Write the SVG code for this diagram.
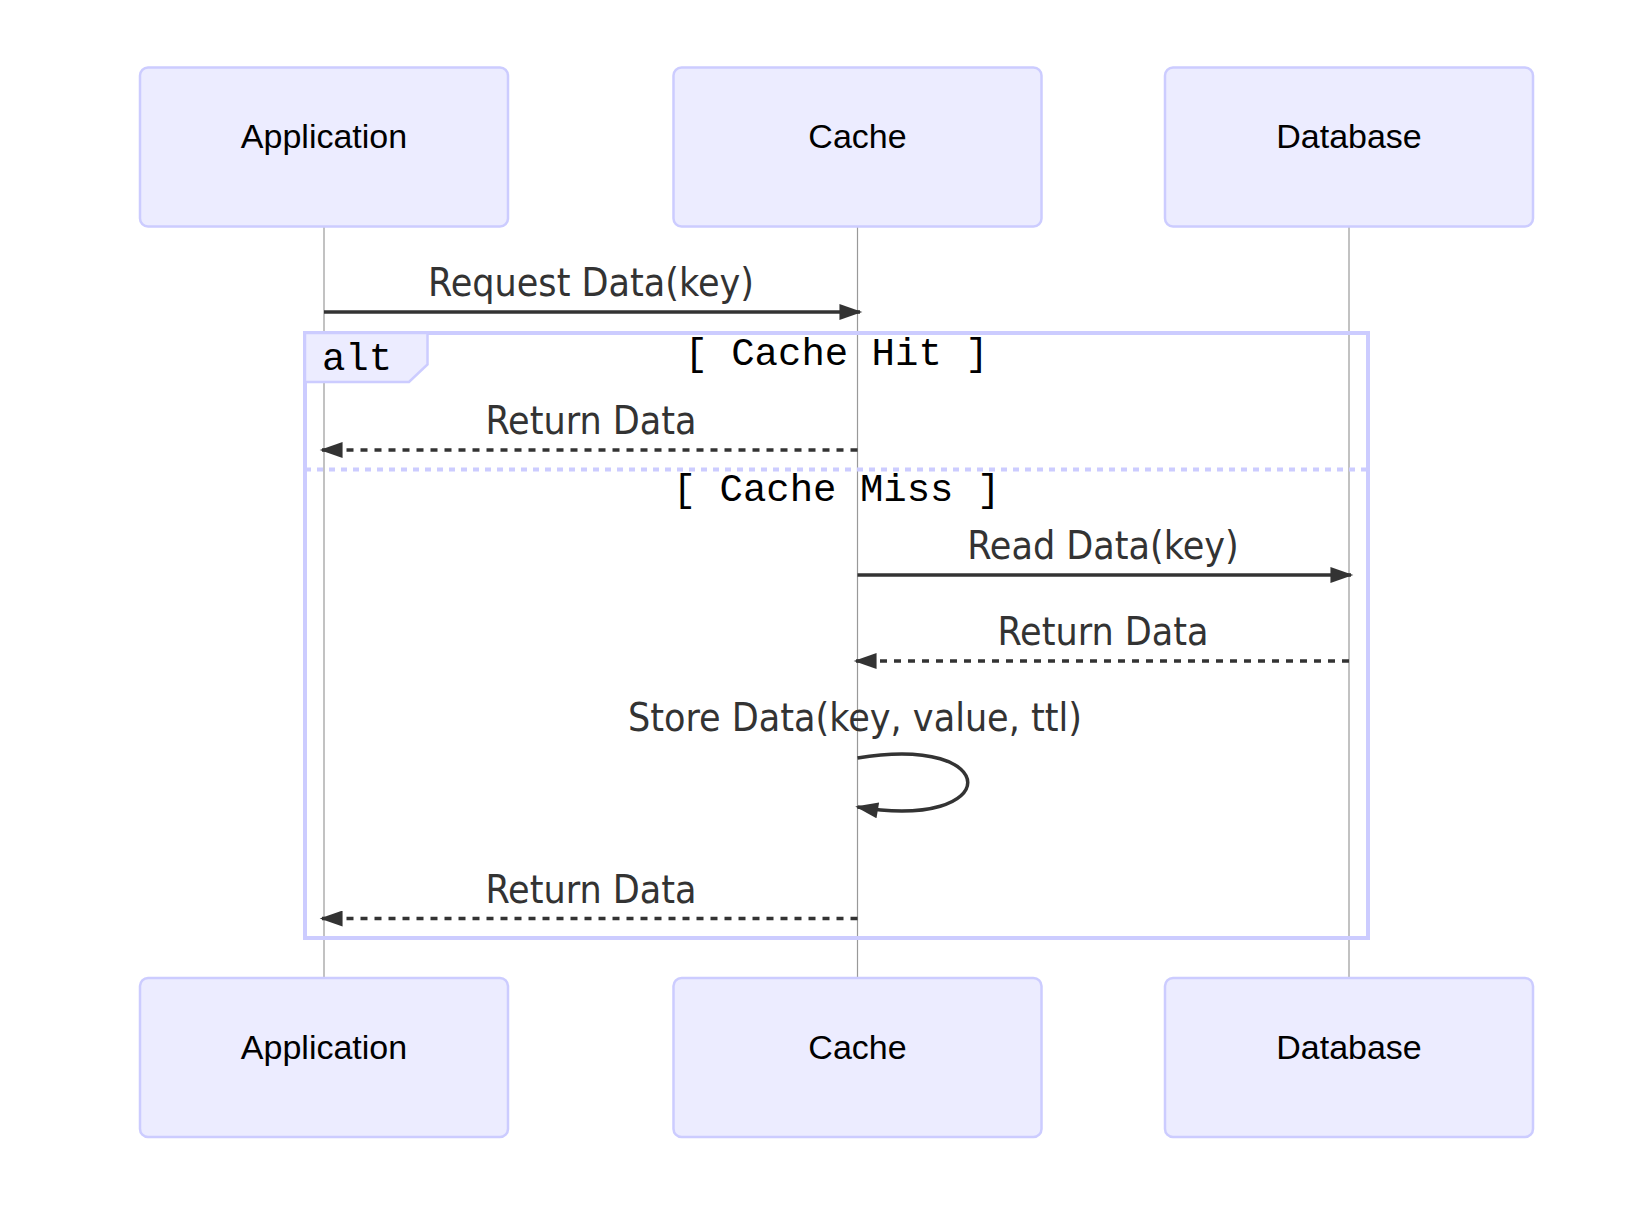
<svg xmlns="http://www.w3.org/2000/svg" width="1642" height="1220" viewBox="0 0 1642 1220">
<style>
.actor{fill:#ECECFF;stroke:#CCCCFF;stroke-width:2.5}
.actorText{font-family:"Liberation Sans",Arial,sans-serif;font-size:34px;fill:#000;text-anchor:middle}
.life{stroke:#999;stroke-width:1.2}
.msg{fill:none;stroke:#333;stroke-width:3.5}
.dash{stroke-dasharray:7 7}
.msgText{font-family:"DejaVu Sans Condensed","DejaVu Sans",sans-serif;font-stretch:condensed;font-size:39px;fill:#333;text-anchor:middle}
.loopLine{fill:none;stroke:#CCCCFF;stroke-width:4}
.sep{stroke-dasharray:6 6}
.labelBox{fill:#ECECFF;stroke:#CCCCFF;stroke-width:2.5}
.mono{font-family:"Liberation Mono","Courier New",monospace;font-size:39px;fill:#000;text-anchor:middle}
</style>
<defs>
<marker id="arrow" markerUnits="userSpaceOnUse" markerWidth="24" markerHeight="16" viewBox="0 0 20 14" refX="18" refY="7" orient="auto">
<path d="M0,0 L20,7 L0,14 z" fill="#333"/>
</marker>
</defs>
<rect width="1642" height="1220" fill="#fff"/>
<g id="lifelines">
<line class="life" x1="324" y1="227" x2="324" y2="978"/>
<line class="life" x1="857.5" y1="227" x2="857.5" y2="978"/>
<line class="life" x1="1349" y1="227" x2="1349" y2="978"/>
</g>
<g id="alt-frame">
<rect class="loopLine" x="305" y="333" width="1063" height="605"/>
<line class="loopLine sep" x1="305" y1="469.5" x2="1368" y2="469.5"/>
<polygon class="labelBox" points="305,333 427.5,333 427.5,364.5 409,382 305,382"/>
<text class="mono" x="357" y="370">alt</text>
<text class="mono" x="836.5" y="365">[ Cache Hit ]</text>
<text class="mono" x="836.5" y="501">[ Cache Miss ]</text>
</g>
<g id="connectors">
<text class="msgText" x="591" y="296">Request Data(key)</text>
<line class="msg" x1="324" y1="312" x2="860" y2="312" marker-end="url(#arrow)"/>
<text class="msgText" x="591" y="434">Return Data</text>
<line class="msg dash" x1="857.5" y1="450" x2="322" y2="450" marker-end="url(#arrow)"/>
<text class="msgText" x="1103" y="559">Read Data(key)</text>
<line class="msg" x1="857.5" y1="575" x2="1351" y2="575" marker-end="url(#arrow)"/>
<text class="msgText" x="1103" y="645">Return Data</text>
<line class="msg dash" x1="1349" y1="661" x2="856" y2="661" marker-end="url(#arrow)"/>
<text class="msgText" x="855" y="731">Store Data(key, value, ttl)</text>
<path class="msg" d="M857.5,758 C1004.5,733.5 1004.5,831.5 857.5,807" marker-end="url(#arrow)"/>
<text class="msgText" x="591" y="903">Return Data</text>
<line class="msg dash" x1="857.5" y1="918.5" x2="322" y2="918.5" marker-end="url(#arrow)"/>
</g>
<g id="actor-application-top">
<rect class="actor" x="140" y="67.5" width="368" height="159" rx="8"/>
<text class="actorText" x="324" y="148">Application</text>
</g>
<g id="actor-cache-top">
<rect class="actor" x="673.5" y="67.5" width="368" height="159" rx="8"/>
<text class="actorText" x="857.5" y="148">Cache</text>
</g>
<g id="actor-database-top">
<rect class="actor" x="1165" y="67.5" width="368" height="159" rx="8"/>
<text class="actorText" x="1349" y="148">Database</text>
</g>
<g id="actor-application-bottom">
<rect class="actor" x="140" y="978" width="368" height="159" rx="8"/>
<text class="actorText" x="324" y="1058.5">Application</text>
</g>
<g id="actor-cache-bottom">
<rect class="actor" x="673.5" y="978" width="368" height="159" rx="8"/>
<text class="actorText" x="857.5" y="1058.5">Cache</text>
</g>
<g id="actor-database-bottom">
<rect class="actor" x="1165" y="978" width="368" height="159" rx="8"/>
<text class="actorText" x="1349" y="1058.5">Database</text>
</g>
</svg>
